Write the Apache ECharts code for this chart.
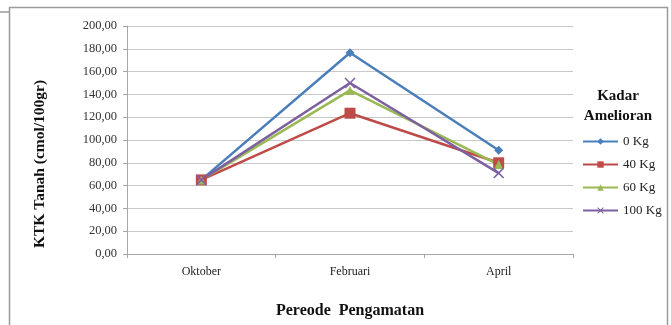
<!DOCTYPE html>
<html><head><meta charset="utf-8">
<script src="https://cdn.jsdelivr.net/npm/echarts@6/dist/echarts.min.js"></script>
<style>html,body{margin:0;padding:0;background:#fff}#c{width:671px;height:325px}</style>
</head><body><div id="c"></div>
<script>
const categories = ['Oktober', 'Februari', 'April'];
const seriesNames = ['0 Kg', '40 Kg', '60 Kg', '100 Kg'];
const s0 = [65, 176.5, 91];
const s40 = [65, 123.5, 80];
const s60 = [65, 143.5, 78.5];
const s100 = [65, 150, 71];
const colors = ['#4a7ebb', '#be4b48', '#98b954', '#7d60a0'];
const F = 'Liberation Serif';
const crossPath = 'path://M0,1L1,0L5,4L9,0L10,1L6,5L10,9L9,10L5,6L1,10L0,9L4,5Z';
const symbols = ['diamond', 'rect', 'triangle', crossPath];
const symSizes = [9, 11, 9, 11];
const data = [s0, s40, s60, s100];

const chart = echarts.init(document.getElementById('c'), null, {renderer: 'canvas'});
chart.setOption({
  animation: false,
  color: colors,
  textStyle: {fontFamily: F},
  grid: {left: 127, right: 98, top: 26, bottom: 71, containLabel: false},
  title: {
    text: 'Kadar\nAmelioran', left: 613, top: 81, textAlign: 'center',
    textStyle: {fontFamily: F, fontSize: 15, fontWeight: 'bold', color: '#111', lineHeight: 20}
  },
  legend: {
    orient: 'vertical', left: 582, top: 135, padding: 0, itemGap: 10, itemWidth: 35, itemHeight: 8,
    data: seriesNames,
    textStyle: {fontFamily: F, fontSize: 13, color: '#222'}
  },
  xAxis: {
    type: 'category', data: categories, boundaryGap: true,
    name: 'Pereode  Pengamatan', nameLocation: 'middle', nameGap: 49,
    nameTextStyle: {fontFamily: F, fontSize: 16, fontWeight: 'bold', color: '#111'},
    axisLine: {lineStyle: {color: '#a6a6a6', width: 1}},
    axisTick: {show: true, length: 4, lineStyle: {color: '#a6a6a6'}},
    axisLabel: {fontFamily: F, fontSize: 12, color: '#222', margin: 12}
  },
  yAxis: {
    type: 'value', min: 0, max: 200, interval: 20,
    axisLine: {show: true, lineStyle: {color: '#a6a6a6'}},
    axisTick: {show: true, length: 4, lineStyle: {color: '#a6a6a6'}},
    splitLine: {lineStyle: {color: '#c8c8c8', width: 1}},
    axisLabel: {fontFamily: F, fontSize: 12.5, color: '#333', margin: 10,
      formatter: v => v.toFixed(2).replace('.', ',')}
  },
  series: seriesNames.map((n, i) => ({
    name: n, type: 'line', data: data[i],
    symbol: symbols[i], symbolSize: symSizes[i], showSymbol: true,
    lineStyle: {width: 2.5, color: colors[i]},
    itemStyle: {color: colors[i]}
  })),
  graphic: [
    {type: 'rect', shape: {x: 9.5, y: 7.5, width: 658, height: 330}, style: {fill: 'none', stroke: '#9a9a9a', lineWidth: 1.5}, silent: true},
    {type: 'line', shape: {x1: 0, y1: 12, x2: 9, y2: 12}, style: {stroke: '#9a9a9a', lineWidth: 1.5}, silent: true},
    {type: 'text', x: 40, y: 164, rotation: Math.PI / 2, silent: true,
      style: {text: 'KTK Tanah (cmol/100gr)', font: 'bold 15.5px "Liberation Serif"', fill: '#111', align: 'center', verticalAlign: 'middle'}}
  ]
});
</script></body></html>
